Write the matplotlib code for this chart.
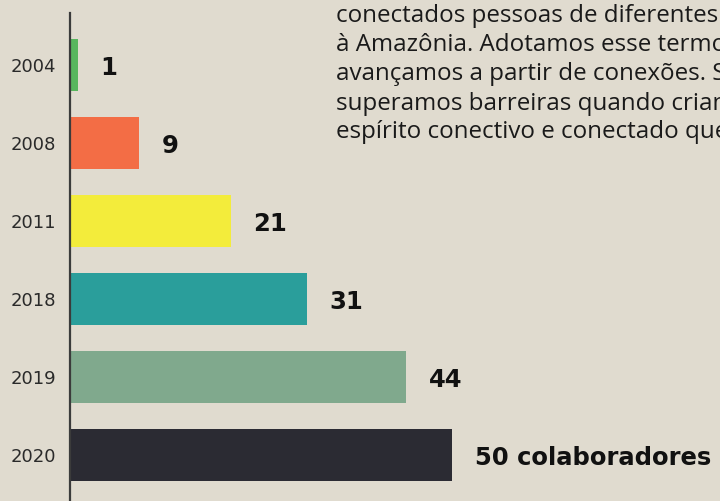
import matplotlib
matplotlib.use('Agg')
import matplotlib.pyplot as plt

# ---------------------------- data ----------------------------
years = ['2004', '2008', '2011', '2018', '2019', '2020']
values = [1, 9, 21, 31, 44, 50]
value_labels = ['1', '9', '21', '31', '44', '50 colaboradores']
bar_colors = ['#58b65e', '#f36d45', '#f3ec3b', '#2a9e9b', '#80a98d', '#2b2b33']

# paragraph that runs off the right edge in the original layout
text_lines = [
    'conectados pessoas de diferentes',
    'à Amazônia. Adotamos esse termo',
    'avançamos a partir de conexões. S',
    'superamos barreiras quando criamos',
    'espírito conectivo e conectado que',
]

BG = '#e0dbcf'

fig = plt.figure(figsize=(7.2, 5.01), dpi=100, facecolor=BG)
W, H = 720, 501

# axes in pixel terms: left edge at the vertical line, top at y=13
ax = fig.add_axes([69.5 / W, 0, (W - 69.5) / W, (H - 13) / H])
ax.set_facecolor(BG)

px_per_unit = 7.65
ax.set_xlim(0, (W - 69.5) / px_per_unit)
ax.set_ylim((H - 65) / 78, -(65 - 13) / 78)

pos = range(len(years))
ax.barh(pos, values, height=52 / 78, color=bar_colors, left=0.05)

for i, (v, lab) in enumerate(zip(values, value_labels)):
    ax.text(v + 3.0, i + 0.04, lab, va='center', ha='left',
            fontsize=17.5, fontweight='bold', family='DejaVu Sans', color='#111111')

ax.set_yticks(list(pos))
ax.set_yticklabels(years, fontsize=13, family='DejaVu Sans', color='#2a2a2a')
ax.tick_params(axis='y', length=0, pad=9.5)
ax.set_xticks([])

for s in ['top', 'right', 'bottom']:
    ax.spines[s].set_visible(False)
ax.spines['left'].set_color('#3b3b3b')
ax.spines['left'].set_linewidth(1.6)

baselines = [22, 51.5, 80.5, 109.5, 138.5]
for line, yb in zip(text_lines, baselines):
    fig.text(336 / W, 1 - yb / H, line, ha='left', va='baseline',
             fontsize=17.4, family='Open Sans', color='#1a1a1a')

fig.savefig('out.png', dpi=100, facecolor=BG)
